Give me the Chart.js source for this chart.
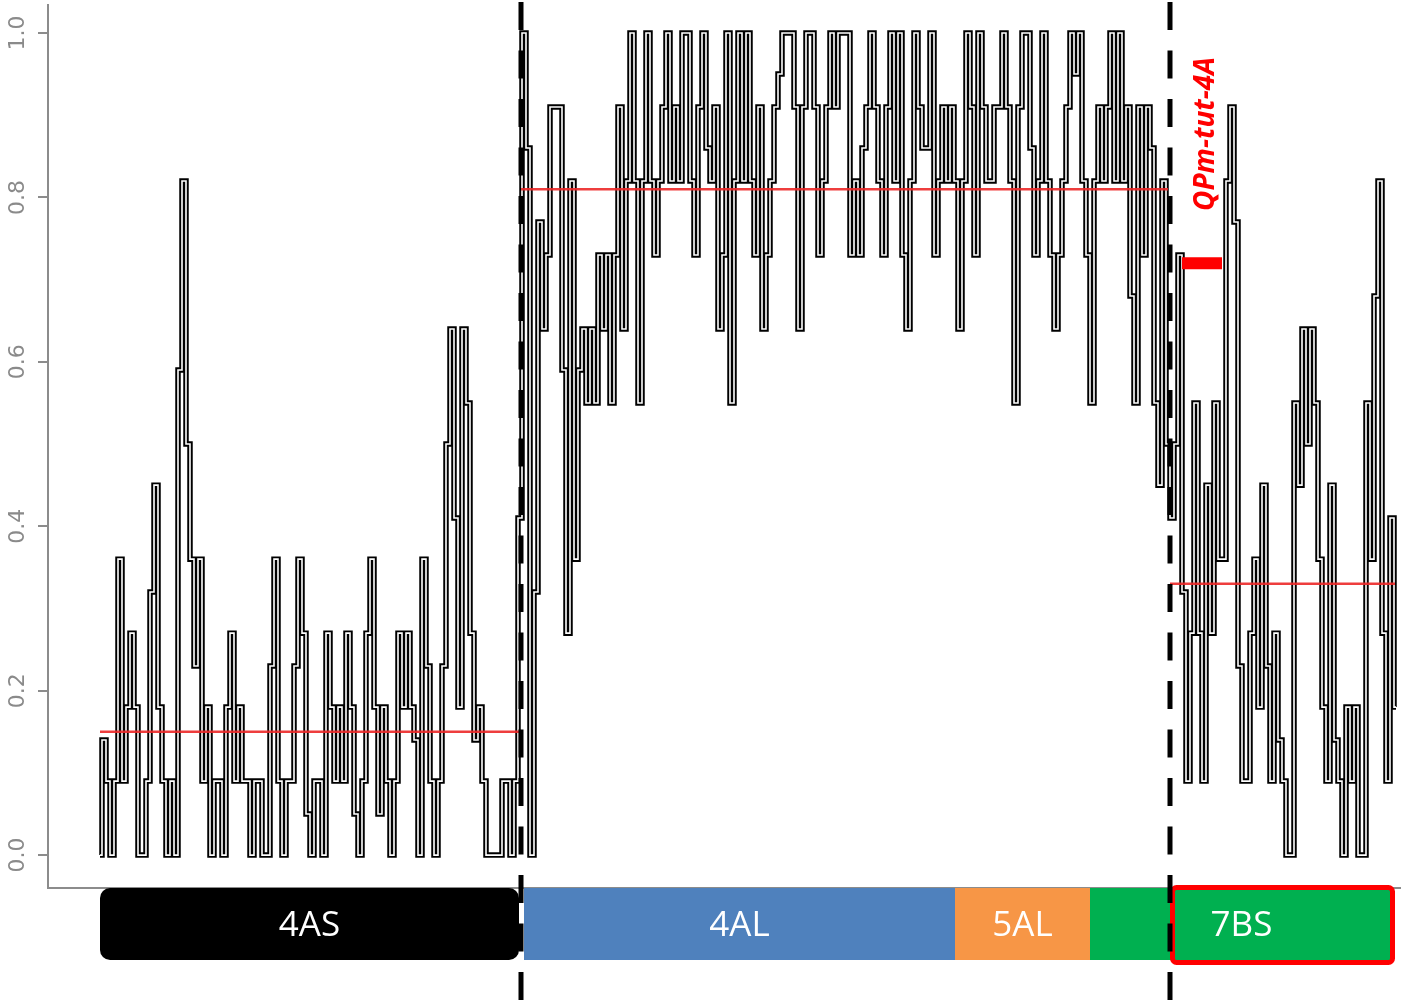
<!DOCTYPE html>
<html>
<head>
<meta charset="utf-8">
<script src="https://cdn.jsdelivr.net/npm/chart.js@4.4.1/dist/chart.umd.min.js"></script>
<style>
  html, body { margin: 0; padding: 0; background: #fff; }
  canvas { display: block; }
</style>
</head>
<body>
<canvas id="scanChart" width="1403" height="1003"></canvas>
<script>
// marker frequencies along the chromosome, one value per marker (index = marker order)
const scan4AS = [
  0, 0.14, 0.09, 0, 0.09, 0.36, 0.09, 0.18, 0.27, 0.18,
  0, 0, 0.09, 0.32, 0.45, 0.18, 0.09, 0, 0.09, 0,
  0.59, 0.82, 0.5, 0.36, 0.23, 0.36, 0.09, 0.18, 0, 0.09,
  0.09, 0, 0.18, 0.27, 0.09, 0.18, 0.09, 0.09, 0, 0.09,
  0.09, 0, 0, 0.23, 0.36, 0.09, 0, 0.09, 0.09, 0.23,
  0.36, 0.27, 0.05, 0, 0.09, 0.09, 0, 0.27, 0.18, 0.09,
  0.18, 0.09, 0.27, 0.18, 0.05, 0, 0.09, 0.27, 0.36, 0.18,
  0.05, 0.18, 0.09, 0, 0.09, 0.27, 0.18, 0.27, 0.18, 0.14,
  0, 0.36, 0.23, 0.09, 0, 0.09, 0.23, 0.5, 0.64, 0.41,
  0.18, 0.64, 0.55, 0.27, 0.14, 0.18, 0.09, 0, 0, 0,
  0, 0.09, 0.09, 0, 0.09, 0.41
];
const scan4AL = [
  1, 0.86, 0, 0.32, 0.77, 0.64, 0.73, 0.91, 0.91, 0.91,
  0.59, 0.27, 0.82, 0.36, 0.59, 0.64, 0.55, 0.64, 0.55, 0.73,
  0.64, 0.73, 0.55, 0.73, 0.91, 0.64, 0.82, 1, 0.82, 0.55,
  0.82, 1, 0.82, 0.73, 0.82, 0.91, 1, 0.82, 0.91, 0.82,
  1, 1, 0.82, 0.73, 0.91, 1, 0.86, 0.82, 0.91, 0.64,
  0.73, 1, 0.55, 0.82, 1, 0.82, 1, 0.82, 0.73, 0.91,
  0.64, 0.73, 0.82, 0.91, 0.95, 1, 1, 1, 0.91, 0.64,
  0.91, 1, 1, 0.91, 0.73, 0.82, 0.91, 1, 0.91, 1,
  1, 1, 0.73, 0.82, 0.73, 0.86, 0.91, 1, 0.91, 0.82,
  0.73, 0.91, 1, 0.82, 1, 0.73, 0.64, 0.82, 1, 0.91,
  0.86, 0.86, 1, 0.73, 0.82, 0.91, 0.82, 0.91, 0.82, 0.64,
  0.82, 1, 0.91, 0.73, 1, 0.91, 0.82, 0.82, 0.91, 0.91,
  1, 0.91, 0.82, 0.55, 0.91, 1, 1, 0.86, 0.73, 0.82,
  1, 0.82, 0.73, 0.64, 0.73, 0.82, 0.91, 1, 0.95, 1,
  0.82, 0.73, 0.55, 0.82, 0.91, 0.82, 0.91, 1, 0.82, 1,
  0.82, 0.91, 0.68, 0.55, 0.91, 0.73, 0.91, 0.86, 0.55, 0.45,
  0.82, 0.5
];
const scan7BS = [
  0.41, 0.5, 0.73, 0.32, 0.09, 0.27, 0.55, 0.27, 0.09, 0.45,
  0.27, 0.55, 0.36, 0.36, 0.82, 0.91, 0.77, 0.23, 0.09, 0.09,
  0.27, 0.36, 0.18, 0.45, 0.23, 0.09, 0.27, 0.14, 0.09, 0,
  0, 0.55, 0.45, 0.64, 0.5, 0.64, 0.55, 0.36, 0.18, 0.09,
  0.45, 0.14, 0.09, 0, 0.18, 0.09, 0.18, 0, 0, 0.55,
  0.36, 0.68, 0.82, 0.27, 0.09, 0.41, 0.18
];

// chromosome blocks under the plot, in marker index units
const blockNames = ['4AS', '4AL', '5AL', '7BS'];
const blockStart = [0, 106, 213.75, 247.5];
const blockEnd = [104.75, 213.75, 247.5, 323.25];

// breakpoints (dashed) and mean frequency of each piece
const breakPoints = [105.25, 267.5];
const armMeans = [0.15, 0.81, 0.33];
const meanStart = [0, 105.25, 267.5];
const meanEnd = [104.75, 267, 323.75];

// QTL marker
const qtlName = 'QPm-tut-4A';
const qtlFrom = 270.5;
const qtlTo = 280.5;
const qtlLevel = 0.72;

const yTicks = [0, 0.2, 0.4, 0.6, 0.8, 1.0];

const points = scan4AS.concat(scan4AL, scan7BS).map((v, i) => ({ x: i, y: v }));

const blockColors = ['#000000', '#4f81bd', '#f79646', '#00b050'];

const overlay = {
  id: 'overlay',
  afterDraw(chart) {
    const { ctx, chartArea, scales: { x, y } } = chart;
    ctx.save();

    // rotated y tick labels
    ctx.fillStyle = '#8a8a8a';
    ctx.font = '22px "DejaVu Sans"';
    ctx.textAlign = 'center';
    ctx.textBaseline = 'middle';
    yTicks.forEach(v => {
      ctx.save();
      ctx.translate(18, y.getPixelForValue(v));
      ctx.rotate(-Math.PI / 2);
      ctx.fillText(v.toFixed(1), 0, 0);
      ctx.restore();
    });

    // chromosome blocks
    const top = chartArea.bottom;
    const h = 72;
    blockNames.forEach((name, i) => {
      const x1 = x.getPixelForValue(blockStart[i]);
      const x2 = x.getPixelForValue(blockEnd[i]);
      ctx.fillStyle = blockColors[i];
      ctx.beginPath();
      if (i === 0) ctx.roundRect(x1, top, x2 - x1, h, 10);
      else ctx.rect(x1, top, x2 - x1, h);
      ctx.fill();
      ctx.fillStyle = '#ffffff';
      ctx.font = '35px "Open Sans"';
      ctx.fillText(name, (x1 + x2) / 2, top + h / 2 + 2);
    });

    // highlight box round the 7BS piece
    const bx1 = x.getPixelForValue(breakPoints[1]);
    const bx2 = x.getPixelForValue(meanEnd[2]);
    ctx.strokeStyle = '#ff0000';
    ctx.lineWidth = 5;
    ctx.beginPath();
    ctx.roundRect(bx1 + 2.5, top - 3 + 2.5, bx2 - bx1 - 5, h + 8 - 5, 4);
    ctx.stroke();

    // QTL label
    ctx.save();
    ctx.fillStyle = '#ff0000';
    ctx.font = 'italic bold 28px "Noto Sans"';
    ctx.translate(x.getPixelForValue((qtlFrom + qtlTo) / 2 + 1), y.getPixelForValue(0.877));
    ctx.rotate(-Math.PI / 2);
    ctx.fillText(qtlName, 0, 0);
    ctx.restore();

    // breakpoints
    ctx.strokeStyle = '#000000';
    ctx.lineWidth = 5;
    ctx.setLineDash([28, 20.5]);
    breakPoints.forEach(b => {
      const px = x.getPixelForValue(b);
      ctx.beginPath();
      ctx.moveTo(px, 2);
      ctx.lineTo(px, chart.height);
      ctx.stroke();
    });
    ctx.restore();
  }
};

const meanSets = armMeans.map((m, i) => ({
  data: [{ x: meanStart[i], y: m }, { x: meanEnd[i], y: m }],
  borderColor: 'rgba(236, 40, 40, 0.9)',
  borderWidth: 2.5,
  pointRadius: 0,
  order: 1
}));

new Chart(document.getElementById('scanChart'), {
  type: 'line',
  data: {
    datasets: [
      {
        data: [{ x: qtlFrom, y: qtlLevel }, { x: qtlTo, y: qtlLevel }],
        borderColor: '#ff0000',
        borderWidth: 12,
        pointRadius: 0,
        order: 0
      },
      ...meanSets,
      {
        data: points,
        stepped: 'middle',
        borderColor: '#ffffff',
        borderWidth: 1.6,
        borderJoinStyle: 'miter',
        pointRadius: 0,
        order: 2
      },
      {
        data: points,
        stepped: 'middle',
        borderColor: '#000000',
        borderWidth: 5.5,
        borderJoinStyle: 'miter',
        pointRadius: 0,
        order: 3
      }
    ]
  },
  options: {
    responsive: false,
    animation: false,
    layout: { padding: { top: 5, right: 3, bottom: 115, left: 0 } },
    plugins: { legend: { display: false }, tooltip: { enabled: false } },
    scales: {
      x: {
        type: 'linear',
        min: -13,
        max: 325,
        grid: { display: false },
        ticks: { display: false },
        border: { color: '#8c8c8c', width: 2 },
        afterFit: s => { s.height = 0; }
      },
      y: {
        min: -0.04,
        max: 1.034,
        grid: { drawOnChartArea: false, tickLength: 10, color: '#8c8c8c', lineWidth: 2 },
        ticks: { display: false },
        border: { color: '#8c8c8c', width: 2 },
        afterBuildTicks: s => { s.ticks = yTicks.map(v => ({ value: v })); },
        afterFit: s => { s.width = 48; }
      }
    }
  },
  plugins: [overlay]
});
</script>
</body>
</html>
